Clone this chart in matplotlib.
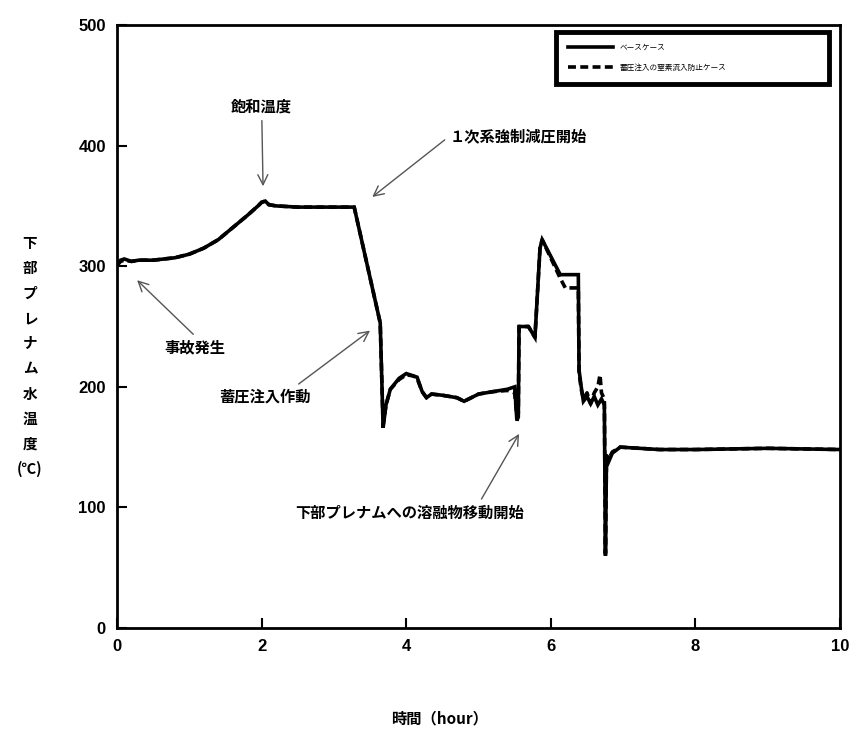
import matplotlib
matplotlib.use("Agg")
import matplotlib.pyplot as plt

plt.rcParams['font.family'] = ['Noto Sans CJK JP', 'DejaVu Sans']

# Base case (solid)
t_base = [0, 0.05, 0.1, 0.2, 0.3, 0.5, 0.8, 1.0, 1.2, 1.4, 1.6, 1.8, 1.95, 2.0, 2.05, 2.1, 2.2, 2.5, 3.0,
          3.28, 3.64, 3.68, 3.72, 3.78, 3.9, 4.0, 4.1, 4.15, 4.22, 4.28, 4.35, 4.5, 4.7, 4.8, 5.0, 5.2, 5.4,
          5.5, 5.53, 5.55, 5.56, 5.69, 5.78, 5.85, 5.88, 6.13, 6.38, 6.39, 6.42, 6.45, 6.5, 6.55, 6.6, 6.65,
          6.7, 6.74, 6.755, 6.77, 6.8, 6.85, 6.96, 7.5, 8.0, 9.0, 10.0]
y_base = [300, 305, 306, 304, 305, 305, 307, 310, 315, 322, 332, 342, 350, 353, 354, 351, 350, 349, 349,
          349, 253, 166, 185, 198, 207, 211, 209, 208, 196, 191, 194, 193, 191, 188, 194, 196, 198,
          200, 172, 175, 250, 250, 241, 315, 322, 293, 293, 214, 200, 188, 192, 186, 192, 185,
          190, 185, 60, 143, 138, 145, 150, 148, 148, 149, 148]

# Accumulator-injection suppression case (dashed)
t_case = [0, 0.05, 0.1, 0.2, 0.3, 0.5, 0.8, 1.0, 1.2, 1.4, 1.6, 1.8, 1.95, 2.0, 2.05, 2.1, 2.2, 2.5, 3.0,
          3.28, 3.64, 3.68, 3.72, 3.78, 3.9, 4.0, 4.1, 4.15, 4.22, 4.28, 4.35, 4.5, 4.7, 4.8, 5.0, 5.2, 5.4,
          5.5, 5.53, 5.55, 5.56, 5.69, 5.78, 5.85, 5.88, 6.13, 6.2, 6.38, 6.39, 6.42, 6.45, 6.5, 6.55, 6.6,
          6.65, 6.68, 6.7, 6.74, 6.755, 6.77, 6.8, 6.85, 6.96, 7.5, 8.0, 9.0, 10.0]
y_case = [301, 304, 305, 304, 305, 305, 307, 310, 315, 322, 332, 342, 350, 353, 354, 351, 350, 349, 349,
          349, 253, 168, 185, 198, 206, 210, 209, 207, 196, 191, 194, 193, 191, 188, 194, 196, 197,
          195, 175, 178, 250, 250, 241, 315, 322, 290, 282, 282, 212, 198, 190, 195, 186, 195,
          200, 210, 195, 190, 62, 143, 140, 146, 150, 148, 148, 149, 148]

labels = ['ベースケース', '蓄圧注入の窒素流入防止ケース']

fig = plt.figure(figsize=(8.58, 7.33), dpi=100)
ax = fig.add_axes([0.1364, 0.1432, 0.8427, 0.8227])

ax.plot(t_base, y_base, color='black', lw=2.6, solid_joinstyle='miter', label=labels[0])
ax.plot(t_case, y_case, color='black', lw=2.6, ls=(0, (2.2, 1.2)), label=labels[1])

ax.set_xlim(0, 10)
ax.set_ylim(0, 500)
ax.set_xticks([0, 2, 4, 6, 8, 10])
ax.set_yticks([0, 100, 200, 300, 400, 500])
ax.tick_params(direction='in', length=7, width=1.5, labelsize=12, pad=8)
for lab in ax.get_xticklabels() + ax.get_yticklabels():
    lab.set_fontfamily(['Liberation Sans', 'DejaVu Sans'])
    lab.set_fontweight('bold')
for s in ax.spines.values():
    s.set_linewidth(2.0)

leg = ax.legend(loc='upper left', bbox_to_anchor=(0.602, 0.994, 0.388, 0.0), mode='expand',
                fontsize=5.5, handlelength=6, labelspacing=1.6, borderpad=1.5,
                fancybox=False, framealpha=1, edgecolor='black')
leg.get_frame().set_linewidth(3.5)

ylabel = "\n".join(list("下部プレナム水温度")) + "\n(℃)"
fig.text(30 / 858, 1 - 356 / 733, ylabel, ha='center', va='center', fontsize=10.5,
         fontweight='bold', linespacing=1.7)
fig.text(440 / 858, 1 - 718 / 733, "時間（hour）", ha='center', va='center', fontsize=11,
         fontweight='bold')

arrow = dict(arrowstyle='->', color='#555555', lw=1.0, mutation_scale=18)
ann_fs = 11
ax.annotate('飽和温度', xy=(2.02, 364), xytext=(2.0, 432), ha='center', va='center',
            fontsize=ann_fs, fontweight='bold', arrowprops=arrow)
ax.annotate('１次系強制減圧開始', xy=(3.5, 356), xytext=(5.55, 408), ha='center', va='center',
            fontsize=ann_fs, fontweight='bold',
            arrowprops=dict(arrow, relpos=(0.0, 0.5), shrinkA=2))
ax.annotate('事故発生', xy=(0.25, 290), xytext=(1.08, 233), ha='center', va='center',
            fontsize=ann_fs, fontweight='bold', arrowprops=dict(arrow, relpos=(0.55, 1.0)))
ax.annotate('蓄圧注入作動', xy=(3.53, 248), xytext=(2.05, 192), ha='center', va='center',
            fontsize=ann_fs, fontweight='bold', arrowprops=dict(arrow, relpos=(0.8, 1.0)))
ax.annotate('下部プレナムへの溶融物移動開始', xy=(5.58, 163), xytext=(4.05, 96), ha='center',
            va='center', fontsize=ann_fs, fontweight='bold',
            arrowprops=dict(arrow, relpos=(0.8, 1.0)))

fig.savefig('out.png', dpi=100)
